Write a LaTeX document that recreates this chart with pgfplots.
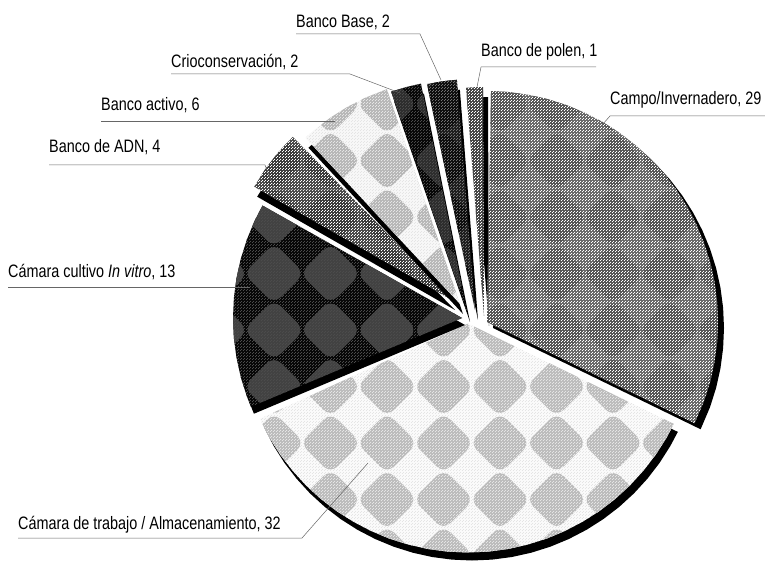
\documentclass[border=0pt]{standalone}
\usepackage{fontspec}
\usepackage{pgfplots}
\usepackage{pgfplotstable}
\pgfplotsset{compat=1.18}
\usetikzlibrary{patterns}
\setmainfont[FakeStretch=0.8]{Liberation Sans}

% rounded diamonds on a 56.5 square grid, centred at (48,4) in page coordinates
\pgfdeclarepatternformonly{checks}{\pgfpoint{19.75pt}{-24.25pt}}{\pgfpoint{76.25pt}{32.25pt}}{\pgfpoint{56.5pt}{56.5pt}}{
  \pgfsetcornersarced{\pgfpoint{10pt}{10pt}}
  \pgfpathmoveto{\pgfpoint{48pt}{-26.5pt}}
  \pgfpathlineto{\pgfpoint{78.5pt}{4pt}}
  \pgfpathlineto{\pgfpoint{48pt}{34.5pt}}
  \pgfpathlineto{\pgfpoint{17.5pt}{4pt}}
  \pgfpathclose
  \pgfusepath{fill}
}
% halftone grain of the scan
\pgfdeclarepatternformonly{grain}{\pgfpoint{0pt}{0pt}}{\pgfpoint{3pt}{3pt}}{\pgfpoint{3pt}{3pt}}{
  \pgfpathrectangle{\pgfpoint{0pt}{0pt}}{\pgfpoint{1pt}{1pt}}
  \pgfpathrectangle{\pgfpoint{1.5pt}{1.5pt}}{\pgfpoint{1pt}{1pt}}
  \pgfusepath{fill}
}

% slices: angle and radius, apex first
\pgfplotstableread[row sep=\\]{a r\\ 0 0\\ -26 231\\ -20 231\\ -15 231\\ -10 231\\ -5 231\\ 0 231\\ 5 231\\ 10 231\\ 15 231\\ 20 231\\ 25 231\\ 30 231\\ 35 231\\ 40 231\\ 45 231\\ 50 231\\ 55 231\\ 60 231\\ 65 231\\ 70 231\\ 75 231\\ 80 231\\ 85 231\\ 89 231\\}\campo
\pgfplotstableread[row sep=\\]{a r\\ 0 0\\ 204.6 229\\ 210 229\\ 215 229\\ 220 229\\ 225 229\\ 230 229\\ 235 229\\ 240 229\\ 245 229\\ 250 229\\ 255 229\\ 260 229\\ 265 229\\ 270 229\\ 275 229\\ 280 229\\ 285 229\\ 290 229\\ 295 229\\ 300 229\\ 305 229\\ 310 229\\ 315 229\\ 320 229\\ 325 229\\ 330 229\\ 334 229\\}\trabajo
\pgfplotstableread[row sep=\\]{a r\\ 0 0\\ 150.6 229\\ 155 229\\ 160 229\\ 165 229\\ 170 229\\ 175 229\\ 180 229\\ 185 229\\ 190 229\\ 195 229\\ 200 229\\ 202.8 229\\}\cultivo
\pgfplotstableread[row sep=\\]{a r\\ 0 0\\ 134.3 228\\ 140 228\\ 145 228\\ 150.2 228\\}\adn
\pgfplotstableread[row sep=\\]{a r\\ 0 0\\ 108.8 227\\ 115 227\\ 120 227\\ 125 227\\ 130 227\\ 132.9 227\\}\activo
\pgfplotstableread[row sep=\\]{a r\\ 0 0\\ 101.4 233\\ 105 233\\ 109 233\\}\crio
\pgfplotstableread[row sep=\\]{a r\\ 0 0\\ 94.5 231\\ 98 231\\ 102 231\\}\bancobase
\pgfplotstableread[row sep=\\]{a r\\ 0 0\\ 90.25 229\\ 92 229\\ 94.5 229\\}\polen

% table, apex shift x y, shadow offset x y, base grey, check grey, grain colour
\newcommand{\slice}[8]{
  \addplot[draw=none,fill=black,data cs=polar,xshift=#2pt+#4pt,yshift=#3pt+#5pt] table[x=a,y=r] {#1};
  \addplot[draw=none,fill=#6,data cs=polar,xshift=#2pt,yshift=#3pt] table[x=a,y=r] {#1};
  \addplot[draw=none,pattern=checks,pattern color=#7,data cs=polar,xshift=#2pt,yshift=#3pt] table[x=a,y=r] {#1};
  \addplot[draw=none,pattern=grain,pattern color=#8,data cs=polar,xshift=#2pt,yshift=#3pt] table[x=a,y=r] {#1};
}
\newcommand{\lab}[3]{\node[anchor=base west,inner sep=0pt,font=\fontsize{18}{20}\selectfont] at (axis cs:#1,#2) {#3};}

\begin{document}
\begin{tikzpicture}
\path[use as bounding box] (0pt,0pt) rectangle (765pt,560pt);
\begin{axis}[
    at={(0pt,0pt)},
    anchor=south west,
    width=765pt,
    height=560pt,
    scale only axis,
    hide axis,
    clip=false,
    xmin=-487, xmax=278,
    ymin=-238, ymax=322,
    cycle list={{draw=none}},
]

\slice{\trabajo}{-19}{-1.5}{4}{-8}{black!2}{black!26}{black!10}
\slice{\cultivo}{-25}{4}{3}{-7}{black!97}{black!74}{black!70}
\slice{\adn}{-35}{22}{3}{-10}{black!70}{black!76}{white}
\slice{\activo}{-27}{18}{3}{-10}{black!3}{black!28}{black!10}
\slice{\crio}{-20}{10}{3}{-10}{black!97}{black!82}{black!70}
\slice{\bancobase}{-12}{12}{3}{-10}{black!88}{black!94}{black!55}
\slice{\polen}{-3}{6}{5}{-10}{black!72}{black!72}{white}
\slice{\campo}{0}{0}{6}{-6}{black!58}{black!66}{white}

% leader lines
\addplot[black!60,line width=0.5pt] coordinates {(-191,288) (-67,288) (-46,242)};
\addplot[black!60,line width=0.5pt] coordinates {(109,255) (-6,255) (-11,230)};
\addplot[black!60,line width=0.5pt] coordinates {(-316,248) (-137,248) (-87,229)};
\addplot[black!60,line width=0.5pt] coordinates {(-386,201) (-152,201)};
\addplot[black!60,line width=0.5pt] coordinates {(-438,157) (-222,157) (-212,132) (-140,132)};
\addplot[black!60,line width=0.5pt] coordinates {(-479,35) (-237,35)};
\addplot[black!60,line width=0.5pt] coordinates {(-469,-216) (-185,-216) (-119,-141)};
\addplot[black!60,line width=0.5pt] coordinates {(278,206) (123,206) (108,189) (3,189)};

\lab{-191}{294}{Banco Base, 2}
\lab{-6}{265}{Banco de polen, 1}
\lab{-316}{254}{Crioconservación, 2}
\lab{-386}{211}{Banco activo, 6}
\lab{-438}{169}{Banco de ADN, 4}
\lab{123}{217}{Campo/Invernadero, 29}
\lab{-479}{44}{Cámara cultivo \textit{In vitro}, 13}
\lab{-469}{-207}{Cámara de trabajo / Almacenamiento, 32}

\end{axis}
\end{tikzpicture}
\end{document}
